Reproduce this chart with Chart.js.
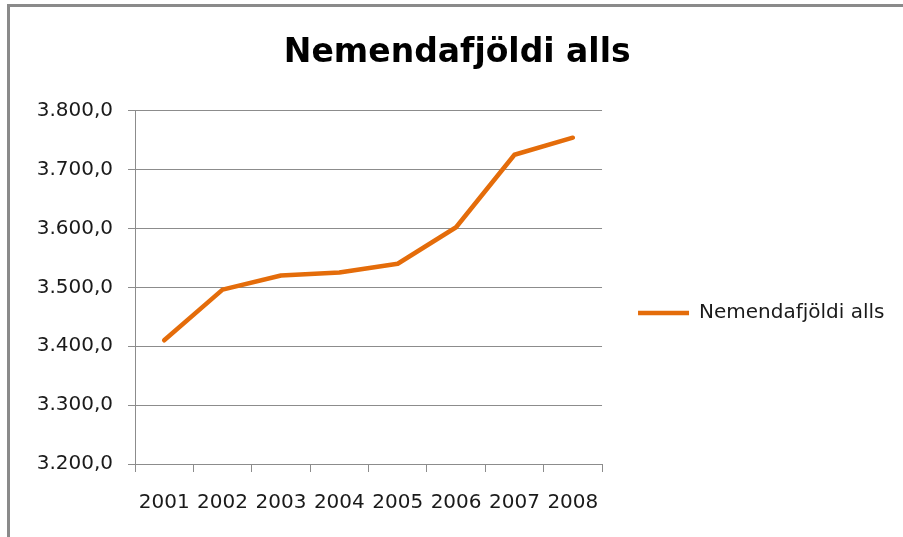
<!DOCTYPE html>
<html>
<head>
<meta charset="utf-8">
<script src="https://cdn.jsdelivr.net/npm/chart.js@4"></script>
<style>
    body { margin: 0; background: #fff; }
    #wrap { position: relative; width: 903px; height: 537px; }
    #frame { position: absolute; left: 7px; top: 4px; right: 0; bottom: 0;
             border-top: 3px solid #8a8a8a; border-left: 3px solid #8a8a8a; pointer-events: none; }
</style>
</head>
<body>
<div id="wrap">
    <canvas id="studentChart" width="903" height="537"></canvas>
    <div id="frame"></div>
</div>
<script>
// Gögn
var years = ['2001', '2002', '2003', '2004', '2005', '2006', '2007', '2008'];
var studentCounts = [3410, 3496, 3520, 3525, 3540, 3602, 3725, 3754];
var seriesName = 'Nemendafjöldi alls';
var yMin = 3200, yMax = 3800, yStep = 100;

var gridColor = '#8c8c8c';
var lineColor = '#e46c0a';

function formatNumber(v) {
    var s = Math.round(v).toString().replace(/\B(?=(\d{3})+(?!\d))/g, '.');
    return s + ',0';
}

var ctx = document.getElementById('studentChart').getContext('2d');
var chart = new Chart(ctx, {
    type: 'line',
    data: {
        labels: years,
        datasets: [{
            label: seriesName,
            data: studentCounts,
            borderColor: lineColor,
            backgroundColor: lineColor,
            borderWidth: 4.5,
            borderCapStyle: 'round',
            borderJoinStyle: 'round',
            pointRadius: 0,
            tension: 0,
            fill: false
        }]
    },
    options: {
        responsive: false,
        animation: false,
        devicePixelRatio: 1,
        layout: {
            padding: { left: 20, right: 8.5, top: 0, bottom: 4 }
        },
        plugins: {
            title: {
                display: true,
                text: seriesName,
                color: '#000',
                font: { family: 'DejaVu Sans', size: 33, weight: 'bold' },
                padding: { top: 34, bottom: 37 }
            },
            legend: {
                position: 'right',
                align: 'start',
                maxWidth: 300,
                title: {
                    display: true,
                    text: ' ',
                    font: { size: 10 },
                    padding: { top: 255, bottom: 0 }
                },
                labels: {
                    usePointStyle: true,
                    pointStyle: 'line',
                    pointStyleWidth: 51,
                    padding: 36,
                    color: '#1a1a1a',
                    font: { family: 'DejaVu Sans', size: 20 }
                }
            },
            tooltip: { enabled: false }
        },
        scales: {
            x: {
                offset: true,
                grid: {
                    offset: true,
                    drawOnChartArea: false,
                    drawTicks: true,
                    tickLength: 8,
                    color: gridColor
                },
                border: { display: true, color: gridColor },
                ticks: {
                    color: '#1a1a1a',
                    padding: 18.5,
                    maxRotation: 0,
                    font: { family: 'DejaVu Sans', size: 20 }
                }
            },
            y: {
                min: yMin,
                max: yMax,
                afterFit: function(scale) { scale.width = 115; },
                grid: {
                    color: gridColor,
                    tickLength: 7
                },
                border: { display: true, color: gridColor },
                ticks: {
                    stepSize: yStep,
                    padding: 15,
                    color: '#1a1a1a',
                    font: { family: 'DejaVu Sans', size: 20 },
                    callback: function(value) { return formatNumber(value); }
                }
            }
        }
    }
});
</script>
</body>
</html>
